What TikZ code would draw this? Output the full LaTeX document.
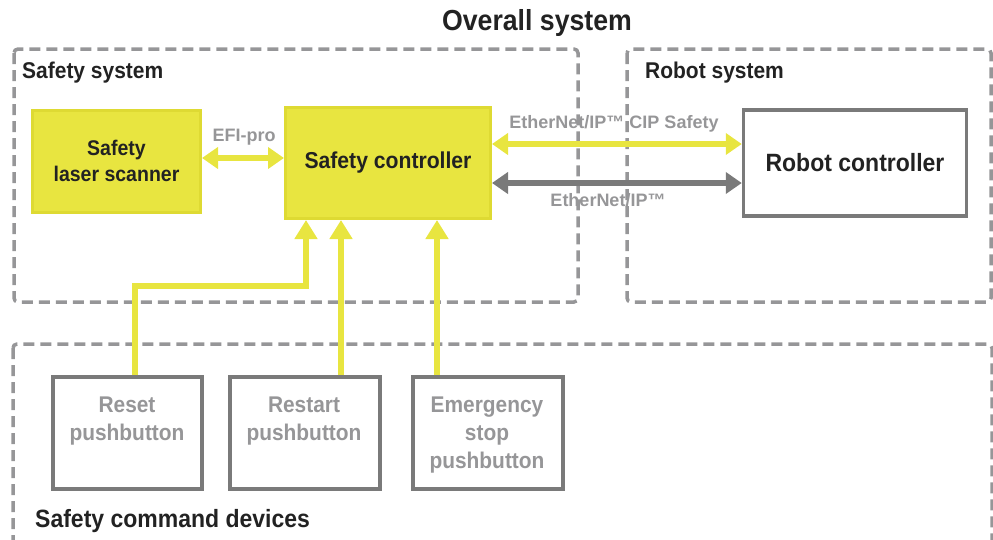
\documentclass[tikz,border=0pt]{standalone}
\usepackage{fontspec}
\setmainfont{Liberation Sans}[FakeStretch=0.92]
\newfontfamily\widefont{Liberation Sans}
\usetikzlibrary{arrows.meta}
\definecolor{ylw}{HTML}{E8E540}
\definecolor{ylwb}{HTML}{DEDA33}
\definecolor{dgray}{HTML}{7A7A7A}
\definecolor{lgray}{HTML}{969698}
\definecolor{txt}{HTML}{222222}
\tikzset{
  grp/.style={draw=lgray, line width=3.5pt, dash pattern=on 11pt off 6pt, rounded corners=4pt},
  grplabel/.style={anchor=west, font=\bfseries\fontsize{22.8}{26}\selectfont, text=txt, inner sep=0pt},
  ybox/.style={draw=ylwb, fill=ylw, line width=3pt, align=center, text=txt},
  gbox/.style={draw=dgray, fill=white, line width=3.5pt, align=center},
  pbtxt/.style={font=\bfseries\fontsize{22.7}{28}\selectfont, text=lgray, align=center, inner sep=0pt},
  linklabel/.style={font=\widefont\bfseries\fontsize{18}{20}\selectfont, text=lgray, inner sep=0pt},
  yarr/.style={draw=ylw, line width=6pt, {Triangle[width=21pt,length=16pt]}-{Triangle[width=21pt,length=16pt]}},
  garr/.style={draw=dgray, line width=6pt, {Triangle[width=21pt,length=16pt]}-{Triangle[width=21pt,length=16pt]}},
  uparr/.style={draw=ylw, line width=6pt, -{Triangle[width=22pt,length=19pt]}},
}
\begin{document}
\begin{tikzpicture}[x=1pt,y=-1pt]
\useasboundingbox (0,0) rectangle (993,539);
% group boxes
\draw[grp] (14,49) rectangle (578,302);
\draw[grp] (627,49) rectangle (991,302);
\draw[grp] (13,344) rectangle (992,545);
\node[font=\bfseries\fontsize{29}{31}\selectfont, text=txt] (title) at (537,23) {Overall system};
\node[grplabel] (lss) at (22,73) {Safety system};
\node[grplabel] (lrs) at (645,73) {Robot system};
\node[grplabel, font=\bfseries\fontsize{25}{27}\selectfont] (lcd) at (35,521) {Safety command devices};
% boxes
\node[ybox, minimum width=168pt, minimum height=102pt, font=\bfseries\fontsize{21.2}{26}\selectfont] (scan) at (116.5,161) {Safety\\laser scanner};
\node[ybox, minimum width=205pt, minimum height=111pt, font=\bfseries\fontsize{23}{26}\selectfont] (ctrl) at (388,163) {Safety controller};
\node[gbox, minimum width=223pt, minimum height=106pt, font=\bfseries\fontsize{25}{28}\selectfont, text=txt] (robot) at (855,163) {Robot controller};
\node[gbox, minimum width=149pt, minimum height=112pt, anchor=north west] (reset) at (51,375) {};
\node[pbtxt] (resettxt) at (127,421) {Reset\\pushbutton};
\node[gbox, minimum width=150pt, minimum height=112pt, anchor=north west] (restart) at (228,375) {};
\node[pbtxt] (restarttxt) at (304,421) {Restart\\pushbutton};
\node[gbox, minimum width=150pt, minimum height=112pt, anchor=north west] (estop) at (411,375) {};
\node[pbtxt] (estoptxt) at (487,435) {Emergency\\stop\\pushbutton};
% links
\draw[yarr] (scan.east |- 0,158) -- (ctrl.west |- 0,158);
\node[linklabel] (efi) at (244,137) {EFI-pro};
\draw[yarr] (ctrl.east |- 0,144) -- (robot.west |- 0,144);
\node[linklabel] (cip) at (614,124) {EtherNet/IP™ CIP Safety};
\draw[garr] (ctrl.east |- 0,183) -- (robot.west |- 0,183);
\node[linklabel] (eip) at (608,200) {EtherNet/IP™};
\coordinate (r1) at (135,286);
\draw[uparr] (reset.north -| r1) -- (r1) -- (306,286) -- (ctrl.south -| 306,0);
\draw[uparr] (restart.north -| 341,0) -- (ctrl.south -| 341,0);
\draw[uparr] (estop.north -| 437,0) -- (ctrl.south -| 437,0);
\end{tikzpicture}
\end{document}
